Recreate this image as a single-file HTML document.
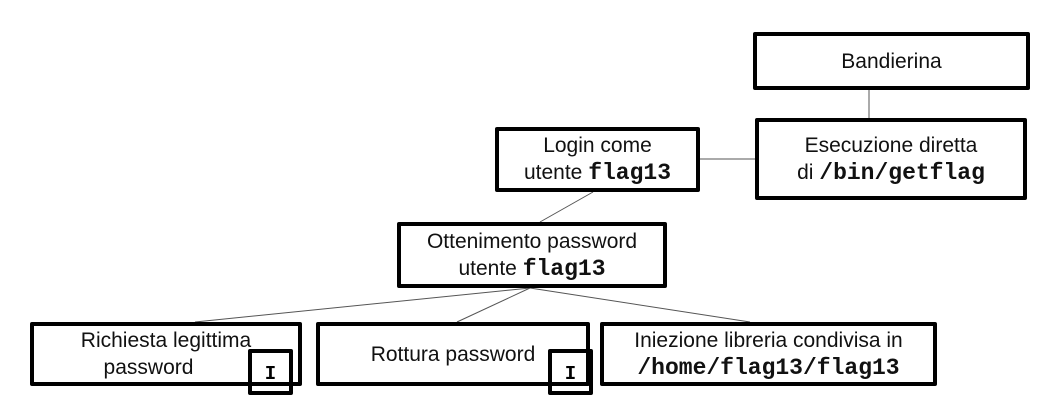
<!DOCTYPE html>
<html><head><style>
body{margin:0;width:1049px;height:420px;background:#fff;position:relative;overflow:hidden;font-family:"Liberation Sans",sans-serif;}
.b{position:absolute;border:4px solid #000;border-radius:2px;box-sizing:border-box;background:#fff;display:flex;align-items:center;justify-content:center;text-align:center;font-size:21px;line-height:27px;color:#111;white-space:nowrap;}
code{font-family:"Liberation Mono",monospace;font-weight:bold;font-size:23px;}
svg{position:absolute;left:0;top:0;}
.i{position:absolute;border:4px solid #000;border-radius:2px;box-sizing:border-box;background:transparent;font-family:"Liberation Mono",monospace;font-weight:bold;font-size:19px;display:flex;align-items:flex-end;justify-content:center;padding-bottom:6px;}
</style></head><body>
<svg width="1049" height="420">
<g stroke="#555" stroke-width="1">
<line x1="869" y1="90" x2="869" y2="118"/>
<line x1="700" y1="159" x2="755" y2="159"/>
<line x1="593" y1="192" x2="540" y2="222"/>
<line x1="530" y1="288" x2="195" y2="322"/>
<line x1="530" y1="288" x2="457" y2="322"/>
<line x1="530" y1="288" x2="750" y2="322"/>
</g></svg>
<div class="b" style="left:753px;top:32px;width:277px;height:58px;"><div>Bandierina</div></div>
<div class="b" style="left:755px;top:118px;width:272px;height:82px;"><div>Esecuzione diretta<br>di <code>/bin/getflag</code></div></div>
<div class="b" style="left:495px;top:127px;width:205px;height:65px;"><div>Login come<br>utente <code>flag13</code></div></div>
<div class="b" style="left:397px;top:222px;width:270px;height:66px;"><div>Ottenimento password<br>utente <code>flag13</code></div></div>
<div class="b" style="left:30px;top:322px;width:272px;height:64px;"><div>Richiesta legittima<br>password&nbsp;&nbsp;&nbsp;&nbsp;&nbsp;&nbsp;</div></div>
<div class="b" style="left:316px;top:322px;width:274px;height:64px;"><div>Rottura password</div></div>
<div class="b" style="left:600px;top:322px;width:337px;height:64px;"><div>Iniezione libreria condivisa in<br><code>/home/flag13/flag13</code></div></div>
<div class="i" style="left:248px;top:349px;width:45px;height:46px;">I</div>
<div class="i" style="left:548px;top:349px;width:45px;height:46px;">I</div>
</body></html>
